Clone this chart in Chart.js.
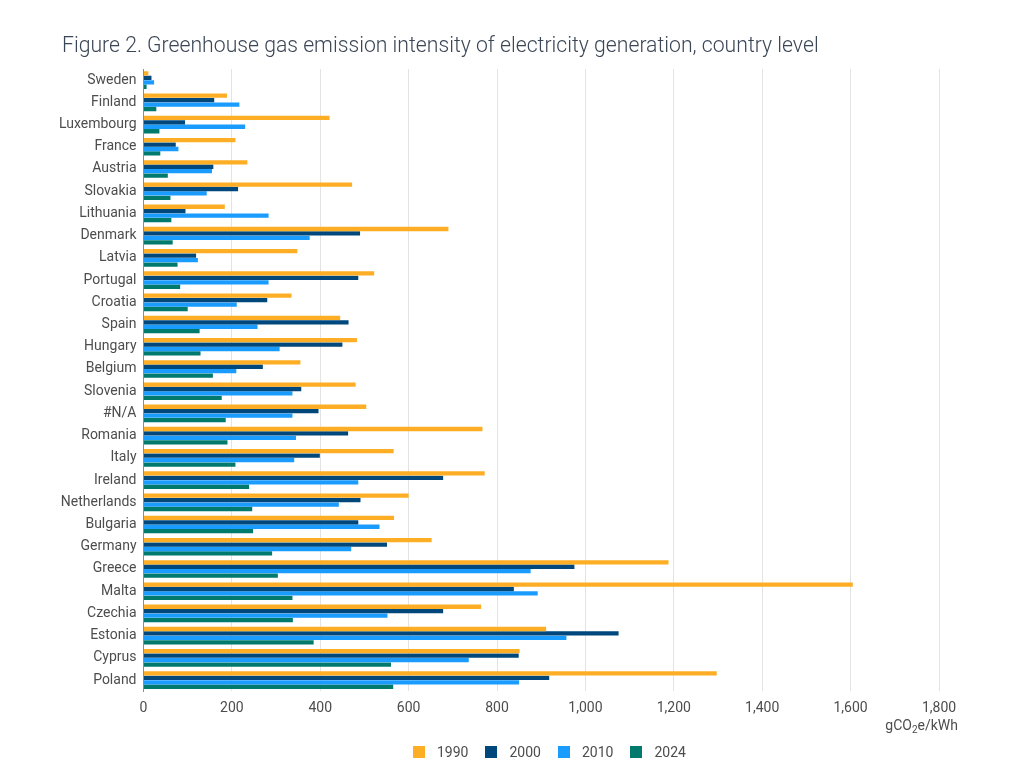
<!DOCTYPE html>
<html>
<head>
<meta charset="utf-8">
<script src="https://cdn.jsdelivr.net/npm/chart.js@4.4.1/dist/chart.umd.min.js"></script>
<style>
  html, body { margin:0; padding:0; background:#fff; }
  #wrap { position:relative; width:1027px; height:769px; }
  #title { position:absolute; left:62px; top:32px; line-height:26px; white-space:nowrap;
    font:300 21.2px Roboto, "Noto Sans", sans-serif; color:#3b4656; }
  #legend { position:absolute; left:413px; top:744px; display:flex; align-items:center;
    font:14px Roboto, "Noto Sans", sans-serif; color:#4d4d4d; }
  #legend .item { display:flex; align-items:center; margin-right:17px; }
  #legend .box { width:12px; height:12px; margin-right:12px; }
</style>
</head>
<body>
<div id="wrap">
  <div id="title">Figure 2. Greenhouse gas emission intensity of electricity generation, country level</div>
  <canvas id="chart" width="1027" height="769"></canvas>
  <div id="legend"></div>
</div>
<script>
// Emission intensity of electricity generation, gCO2e/kWh
const countries = ['Sweden','Finland','Luxembourg','France','Austria','Slovakia','Lithuania','Denmark','Latvia','Portugal',
  'Croatia','Spain','Hungary','Belgium','Slovenia','#N/A','Romania','Italy','Ireland','Netherlands',
  'Bulgaria','Germany','Greece','Malta','Czechia','Estonia','Cyprus','Poland'];
const years = ['1990','2000','2010','2024'];
const v1990 = [11,189,421,208,235,472,184,690,348,522, 335,445,483,355,480,504,767,566,772,600, 567,652,1188,1605,764,911,851,1297];
const v2000 = [18,160,94,73,158,214,95,490,119,486, 280,464,450,270,357,396,463,399,678,491, 486,551,975,838,678,1075,849,918];
const v2010 = [24,217,230,79,155,143,283,376,123,283, 211,258,308,210,337,337,345,341,486,442, 534,470,876,892,552,957,736,850];
const v2024 = [7,29,36,38,55,61,63,66,77,83, 100,127,129,157,177,186,190,208,239,246, 248,291,304,337,338,385,560,565];
const xTicks = [0,200,400,600,800,1000,1200,1400,1600,1800];
const colors = ['#FDAE24','#00487C','#1A9CFF','#007A6C'];

const FONT = 'Roboto, "Noto Sans", sans-serif';
const TXT = '#4d4d4d';

const unitLabel = {
  id:'unitLabel',
  afterDraw(chart) {
    const ctx = chart.ctx, a = chart.chartArea;
    const x = a.right + 19, y = 726;
    ctx.save();
    ctx.fillStyle = TXT;
    ctx.textBaseline = 'middle';
    ctx.textAlign = 'right';
    ctx.font = '14px ' + FONT;
    const tail = 'e/kWh';
    ctx.fillText(tail, x, y);
    let w = ctx.measureText(tail).width;
    ctx.font = '10px ' + FONT;
    ctx.fillText('2', x - w, y + 4);
    w += ctx.measureText('2').width;
    ctx.font = '14px ' + FONT;
    ctx.fillText('gCO', x - w, y);
    ctx.restore();
  }
};

const datasets = [v1990, v2000, v2010, v2024].map((d, i) => ({
  label: years[i], data: d, backgroundColor: colors[i],
  barPercentage: 0.97, categoryPercentage: 0.8
}));

const chart = new Chart(document.getElementById('chart'), {
  type: 'bar',
  data: { labels: countries, datasets },
  options: {
    indexAxis: 'y',
    responsive: false,
    animation: false,
    layout: { padding: { left: 52, right: 88, top: 69, bottom: 43 } },
    plugins: {
      legend: { display: false },
      tooltip: { enabled: false }
    },
    scales: {
      x: {
        min: 0, max: 1800,
        afterBuildTicks: s => { s.ticks = xTicks.map(v => ({ value: v })); },
        grid: { color: '#e3e3e3', drawTicks: false },
        border: { display: false },
        ticks: { color: TXT, font: { family: FONT, size: 14 }, padding: 9,
          callback: v => v.toLocaleString('en-US') }
      },
      y: {
        grid: { display: false, drawTicks: false },
        border: { display: true, color: '#8c8c8c', width: 1 },
        ticks: { color: TXT, font: { family: FONT, size: 14 }, padding: 7, autoSkip: false }
      }
    }
  },
  plugins: [unitLabel]
});

// legend as html, built from the dataset labels/colours
const leg = document.getElementById('legend');
chart.data.datasets.forEach(ds => {
  const it = document.createElement('div');
  it.className = 'item';
  it.innerHTML = `<span class="box" style="background:${ds.backgroundColor}"></span><span>${ds.label}</span>`;
  leg.appendChild(it);
});
</script>
</body>
</html>
